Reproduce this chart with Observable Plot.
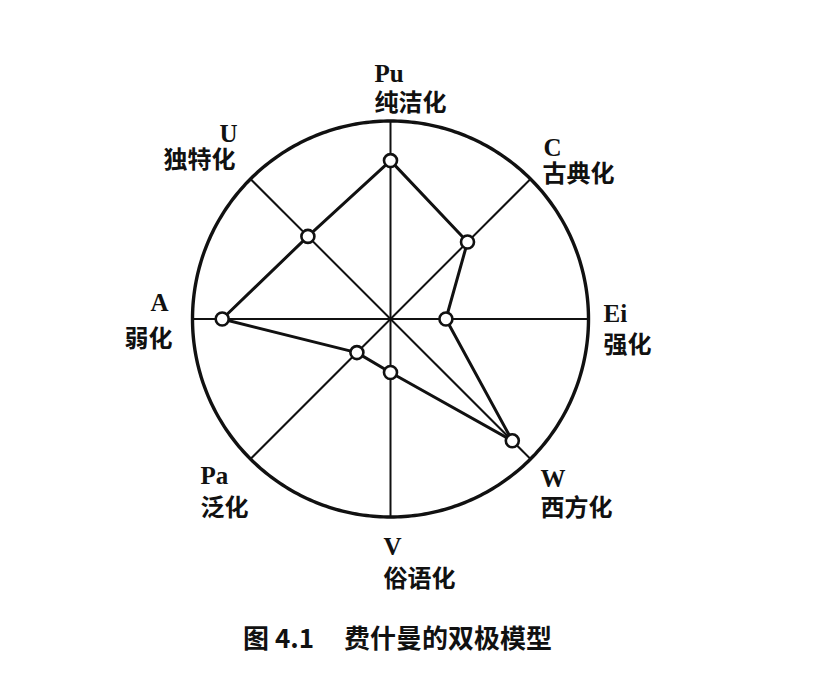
<!DOCTYPE html>
<html>
<head>
<meta charset="utf-8">
<script src="https://cdn.jsdelivr.net/npm/d3@7"></script>
<script src="https://cdn.jsdelivr.net/npm/@observablehq/plot@0.6"></script>
<style>
  html, body { margin: 0; padding: 0; background: #ffffff; }
  #chart svg { display: block; }
  #caption {
    font-family: "Noto Sans CJK SC", sans-serif;
    font-weight: 700;
    font-size: 26px;
    line-height: 30px;
    color: #111;
    margin-top: 12px;
    padding-left: 243px;
    white-space: pre;
  }
  #caption .gap { display: inline-block; width: 30px; }
</style>
</head>
<body>
<div id="chart"></div>
<div id="caption"></div>
<script>
// ---- data ----
const axisCodes = ["Pu", "C", "Ei", "W", "V", "Pa", "A", "U"];
const axisNames = ["纯洁化", "古典化", "强化", "西方化", "俗语化", "泛化", "弱化", "独特化"];
const axisValues = [0.80, 0.55, 0.28, 0.87, 0.27, 0.24, 0.85, 0.59];
const captionNumber = "图 4.1";
const captionTitle = "费什曼的双极模型";

// ---- layout ----
const W = 824, H = 610;
const cx = 390, cy = 318.5, R = 198;       // circle centre & radius in px
const labelLayout = {
  Pu: {anchor: "start", dx: -16, dy: -47, dx2: -16, dy2: -18},
  C:  {anchor: "start", dx: 13,  dy: -31, dx2: 12,  dy2: -5},
  Ei: {anchor: "start", dx: 15,  dy: -5,  dx2: 15,  dy2: 26},
  W:  {anchor: "start", dx: 10,  dy: 20,  dx2: 10,  dy2: 49},
  V:  {anchor: "start", dx: -7,  dy: 30,  dx2: -7,  dy2: 62},
  Pa: {anchor: "start", dx: -50, dy: 17,  dx2: -50, dy2: 49},
  A:  {anchor: "end",   dx: -24, dy: -16, dx2: -20, dy2: 20},
  U:  {anchor: "end",   dx: -13, dy: -45, dx2: -15, dy2: -19}
};

const n = axisCodes.length;
const axes = axisCodes.map((code, i) => {
  const a = i * 2 * Math.PI / n;
  return {code, name: axisNames[i], value: axisValues[i], sin: Math.sin(a), cos: Math.cos(a)};
});
const points = axes.map(d => ({x: d.value * d.sin, y: d.value * d.cos}));
const ring = d3.range(0, 361, 1).map(deg => {
  const a = deg * Math.PI / 180;
  return {x: Math.sin(a), y: Math.cos(a)};
});

const letterFont = "'Liberation Serif', 'DejaVu Serif', serif";
const cjkFont = "'Noto Sans CJK SC', sans-serif";

const labelMarks = axes.flatMap(d => {
  const L = labelLayout[d.code];
  return [
    Plot.text([d], {x: "sin", y: "cos", text: "code", textAnchor: L.anchor, dx: L.dx, dy: L.dy,
      fontFamily: letterFont, fontWeight: 700, fontSize: 25, fill: "#111"}),
    Plot.text([d], {x: "sin", y: "cos", text: "name", textAnchor: L.anchor, dx: L.dx2, dy: L.dy2,
      fontFamily: cjkFont, fontWeight: 700, fontSize: 24, fill: "#111"})
  ];
});

const chart = Plot.plot({
  width: W,
  height: H,
  margin: 0,
  style: {background: "#ffffff"},
  x: {domain: [-cx / R, (W - cx) / R], axis: null},
  y: {domain: [-(H - cy) / R, cy / R], axis: null},
  marks: [
    Plot.link(axes, {x1: () => 0, y1: () => 0, x2: "sin", y2: "cos", stroke: "#111", strokeWidth: 2}),
    Plot.line(ring, {x: "x", y: "y", stroke: "#111", strokeWidth: 3.4}),
    Plot.line(points, {x: "x", y: "y", curve: "linear-closed", stroke: "#111", strokeWidth: 3, strokeLinejoin: "miter"}),
    Plot.dot(points, {x: "x", y: "y", r: 6.5, fill: "white", stroke: "#111", strokeWidth: 2.6}),
    ...labelMarks
  ]
});
document.getElementById("chart").appendChild(chart);

const cap = document.getElementById("caption");
cap.append(captionNumber);
const gap = document.createElement("span");
gap.className = "gap";
cap.append(gap);
cap.append(captionTitle);
</script>
</body>
</html>
